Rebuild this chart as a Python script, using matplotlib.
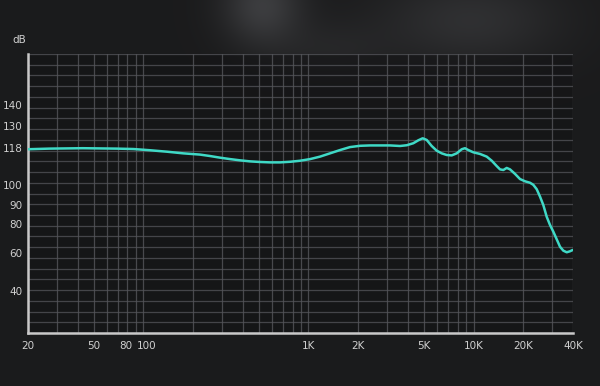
import numpy as np
import matplotlib
matplotlib.use("Agg")
import matplotlib.pyplot as plt
import matplotlib.transforms as mtransforms
from matplotlib.ticker import FixedLocator, LogLocator, NullFormatter

# frequency response (Hz, dB)
freq = [20, 27, 43, 69, 87, 110, 139, 174, 220, 253, 291, 335, 385, 442,
        508, 585, 672, 773, 888, 1021, 1174, 1350, 1552, 1784, 2051, 2358,
        2711, 3116, 3584, 3934, 4314, 4625, 4917, 5199, 5574, 5977, 6408,
        6872, 7369, 7902, 8472, 8871, 9290, 9961, 10940, 12010, 12880, 13810,
        14460, 15140, 15870, 16620, 17820, 19100, 20480, 21960, 22990, 24110,
        25250, 26440, 27720, 29030, 30400, 31880, 33380, 34950, 36650, 38380,
        39860]
level = [117.4, 117.7, 117.9, 117.7, 117.5, 116.9, 116.2, 115.4, 114.8, 114.1,
         113.3, 112.6, 112.0, 111.5, 111.2, 111.0, 111.0, 111.3, 111.8, 112.6,
         113.8, 115.4, 117.0, 118.5, 119.2, 119.4, 119.4, 119.4, 119.1, 119.5,
         120.6, 122.2, 123.3, 122.4, 119.1, 116.7, 115.4, 114.6, 114.4, 115.4,
         117.4, 117.9, 117.0, 115.9, 115.1, 113.8, 111.8, 109.2, 107.6, 107.3,
         108.3, 107.6, 105.4, 102.9, 101.8, 101.1, 100.1, 97.9, 94.2, 90.0,
         83.8, 79.3, 74.7, 69.4, 64.3, 61.6, 60.5, 61.2, 62.1]

x_ticks = [20, 50, 80, 100, 1000, 2000, 5000, 10000, 20000, 40000]
x_labels = ["20", "50", "80", "100", "1K", "2K", "5K", "10K", "20K", "40K"]
y_ticks = [40, 60, 80, 90, 100, 118, 130, 140]

# the dB axis of the original is not linear: map dB to a position
db_marks = [18, 40, 60, 80, 90, 100, 118, 130, 140, 164]
db_pos = [0, 42, 80, 109, 128, 148, 185, 207, 228, 279]


def fwd(v):
    return np.interp(v, db_marks, db_pos)


def inv(p):
    return np.interp(p, db_pos, db_marks)


fig = plt.figure(figsize=(6, 3.86), dpi=100)

# dark background with a soft light patch at the top
bg = fig.add_axes([0, 0, 1, 1])
yy, xx = np.mgrid[0:386, 0:600]
img = 0.105 + 0.13 * np.exp(-(((xx - 262) / 40.0) ** 2 + ((yy - 5) / 40.0) ** 2))
img += 0.08 * np.exp(-(((xx - 470) / 90.0) ** 2 + ((yy - 20) / 45.0) ** 2))
img += 0.04 * np.exp(-(((xx - 330) / 60.0) ** 2 + ((yy - 50) / 30.0) ** 2))
bg.imshow(np.dstack([img, img * 1.01, img * 1.05]).clip(0, 1), aspect="auto")
bg.axis("off")

ax = fig.add_axes([28 / 600, 53 / 386, 545 / 600, 279 / 386])
ax.set_facecolor((0.07, 0.07, 0.08, 0.55))
ax.set_xscale("log")
ax.set_yscale("function", functions=(fwd, inv))
ax.set_xlim(20, 40000)
ax.set_ylim(18, 164)

# horizontal grid: evenly spaced in the picture
for f in np.linspace(0, 1, 27):
    ax.plot([0, 1], [f, f], transform=ax.transAxes, color="#55565b",
            lw=0.9, alpha=0.75, zorder=1)

ax.xaxis.set_major_locator(FixedLocator(x_ticks))
ax.set_xticklabels(x_labels)
ax.xaxis.set_minor_locator(LogLocator(base=10, subs=range(2, 10)))
ax.xaxis.set_minor_formatter(NullFormatter())
ax.grid(which="both", axis="x", color="#5a5b60", lw=0.9, alpha=0.75)
ax.set_axisbelow(True)

ax.yaxis.set_major_locator(FixedLocator(y_ticks))
ax.set_yticklabels([str(v) for v in y_ticks])
ax.yaxis.set_minor_locator(FixedLocator([]))

ax.tick_params(which="both", length=0, colors="#d0d0d0", labelsize=7.5)
ax.tick_params(axis="x", pad=6)
ax.tick_params(axis="y", pad=4)

# keep "80" and "100" apart like in the original
labs = ax.get_xticklabels()
labs[2].set_transform(labs[2].get_transform() +
                      mtransforms.ScaledTranslation(-2 / 100, 0, fig.dpi_scale_trans))
labs[3].set_transform(labs[3].get_transform() +
                      mtransforms.ScaledTranslation(3 / 100, 0, fig.dpi_scale_trans))

for s in ["top", "right"]:
    ax.spines[s].set_visible(False)
for s in ["left", "bottom"]:
    ax.spines[s].set_color("#c9c9c9")
    ax.spines[s].set_linewidth(1.8)

ax.plot(freq, level, color="#3fd9c6", lw=1.8, solid_joinstyle="round",
        solid_capstyle="round", zorder=3)

fig.text(12 / 600, 1 - 40 / 386, "dB", color="#d0d0d0", fontsize=7.5,
         va="center", ha="left")

fig.savefig("out.png", dpi=100)
